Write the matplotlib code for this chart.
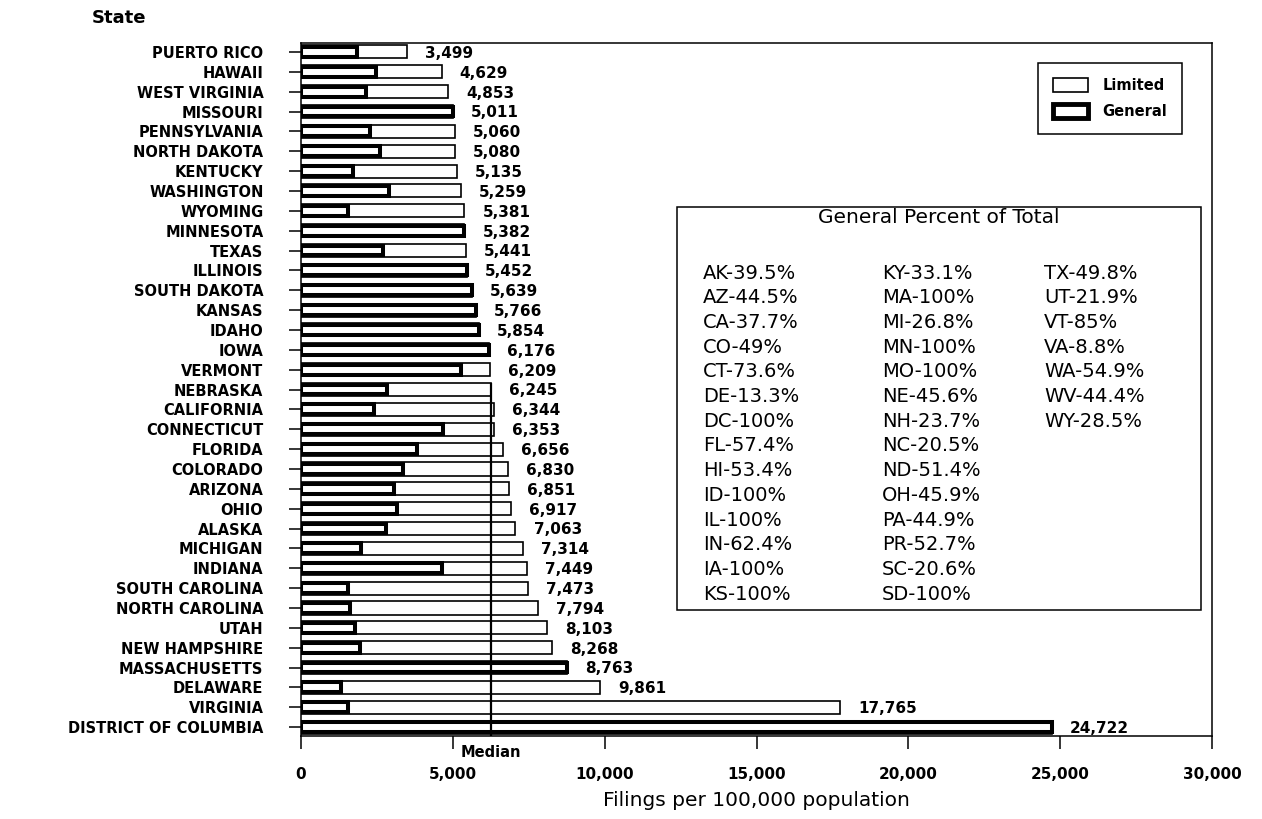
import matplotlib
matplotlib.use("Agg")
import matplotlib.pyplot as plt
from matplotlib.patches import Patch, Rectangle
import numpy as np

plt.rcParams["font.family"] = ["DejaVu Sans"]

# bar order, top to bottom
states = [
    "PUERTO RICO", "HAWAII", "WEST VIRGINIA", "MISSOURI", "PENNSYLVANIA",
    "NORTH DAKOTA", "KENTUCKY", "WASHINGTON", "WYOMING", "MINNESOTA",
    "TEXAS", "ILLINOIS", "SOUTH DAKOTA", "KANSAS", "IDAHO", "IOWA",
    "VERMONT", "NEBRASKA", "CALIFORNIA", "CONNECTICUT", "FLORIDA",
    "COLORADO", "ARIZONA", "OHIO", "ALASKA", "MICHIGAN", "INDIANA",
    "SOUTH CAROLINA", "NORTH CAROLINA", "UTAH", "NEW HAMPSHIRE",
    "MASSACHUSETTS", "DELAWARE", "VIRGINIA", "DISTRICT OF COLUMBIA",
]
state_codes = [
    "PR", "HI", "WV", "MO", "PA", "ND", "KY", "WA", "WY", "MN", "TX", "IL",
    "SD", "KS", "ID", "IA", "VT", "NE", "CA", "CT", "FL", "CO", "AZ", "OH",
    "AK", "MI", "IN", "SC", "NC", "UT", "NH", "MA", "DE", "VA", "DC",
]
totals = [
    3499, 4629, 4853, 5011, 5060, 5080, 5135, 5259, 5381, 5382, 5441, 5452,
    5639, 5766, 5854, 6176, 6209, 6245, 6344, 6353, 6656, 6830, 6851, 6917,
    7063, 7314, 7449, 7473, 7794, 8103, 8268, 8763, 9861, 17765, 24722,
]

# "General Percent of Total" box, column by column
box_codes = [
    "AK", "AZ", "CA", "CO", "CT", "DE", "DC", "FL", "HI", "ID", "IL", "IN", "IA", "KS",
    "KY", "MA", "MI", "MN", "MO", "NE", "NH", "NC", "ND", "OH", "PA", "PR", "SC", "SD",
    "TX", "UT", "VT", "VA", "WA", "WV", "WY",
]
box_pcts = [
    39.5, 44.5, 37.7, 49, 73.6, 13.3, 100, 57.4, 53.4, 100, 100, 62.4, 100, 100,
    33.1, 100, 26.8, 100, 100, 45.6, 23.7, 20.5, 51.4, 45.9, 44.9, 52.7, 20.6, 100,
    49.8, 21.9, 85, 8.8, 54.9, 44.4, 28.5,
]
rows_per_col = 14

pct_by_code = dict(zip(box_codes, box_pcts))
general = [t * pct_by_code[c] / 100 for t, c in zip(totals, state_codes)]
median = float(np.median(totals))

fig = plt.figure(figsize=(12.62, 8.19), dpi=100)
ax = fig.add_axes([0.2385, 0.1013, 0.7219, 0.8462])

y = np.arange(len(states))
ax.barh(y, totals, height=0.66, color="white", edgecolor="black", linewidth=1.2, zorder=2)
ax.barh(y, general, height=0.5, color="white", edgecolor="black", linewidth=2.9, zorder=3)

for yi, t in zip(y, totals):
    ax.annotate(f"{t:,}", (t, yi), xytext=(13, -1), textcoords="offset points",
                ha="left", va="center", fontsize=11, fontweight="bold")

# median line, from the median bar down to the axis
med_idx = int(np.argmin(np.abs(np.array(totals) - median)))
ax.vlines(median, med_idx - 0.33, len(states) - 0.45 + 0.1, color="black", linewidth=1.6, zorder=4)
ax.annotate("Median", (median, 0), xycoords=("data", "axes fraction"), xytext=(0, -12),
            textcoords="offset points", ha="center", va="center", fontsize=10.5, fontweight="bold")

ax.set_xlim(0, 30000)
ax.set_ylim(len(states) - 0.55, -0.45)
ax.set_xticks(range(0, 30001, 5000))
ax.set_xticklabels([f"{v:,}" for v in range(0, 30001, 5000)], fontsize=11, fontweight="bold")
ax.set_yticks(y)
ax.set_yticklabels(states, fontsize=10.5, fontweight="bold")
ax.tick_params(axis="x", length=9, width=1.1, pad=13)
ax.tick_params(axis="y", length=9, width=1.1, pad=18)
for sp in ax.spines.values():
    sp.set_linewidth(1.1)

ax.set_xlabel("Filings per 100,000 population", fontsize=14.5, labelpad=7)
fig.text(92 / 1262, 1 - 18 / 819, "State", ha="left", va="center", fontsize=13, fontweight="bold")

# legend
handles = [
    Patch(facecolor="white", edgecolor="black", linewidth=1.2, label="Limited"),
    Patch(facecolor="white", edgecolor="black", linewidth=3.5, label="General"),
]
leg = ax.legend(handles=handles, loc="upper right", bbox_to_anchor=(0.967, 0.971),
                borderaxespad=0, fancybox=False, edgecolor="black", framealpha=1,
                prop={"size": 10.5, "weight": "bold"}, borderpad=1.0, labelspacing=0.8,
                handlelength=2.4, handleheight=1.1, handletextpad=1.0)
leg.get_frame().set_linewidth(1.1)

# percent box
x0, x1 = (677 - 301) / 911, (1201 - 301) / 911
yb, yt = (736 - 610) / 693, (736 - 207) / 693
ax.add_patch(Rectangle((x0, yb), x1 - x0, yt - yb, transform=ax.transAxes,
                       facecolor="white", edgecolor="black", linewidth=1.1, zorder=5))
ax.text((x0 + x1) / 2, (736 - 217) / 693, "General Percent of Total", transform=ax.transAxes,
        ha="center", va="center", fontsize=14.5, zorder=6)
col_x = [(703 - 301) / 911, (882 - 301) / 911, (1044 - 301) / 911]
row0 = (736 - 273) / 693
row_step = 24.7 / 693
for i, (code, p) in enumerate(zip(box_codes, box_pcts)):
    c, r = divmod(i, rows_per_col)
    ax.text(col_x[c], row0 - r * row_step, f"{code}-{p:g}%", transform=ax.transAxes,
            ha="left", va="center", fontsize=14, zorder=6)

fig.savefig("out.png", dpi=100)
